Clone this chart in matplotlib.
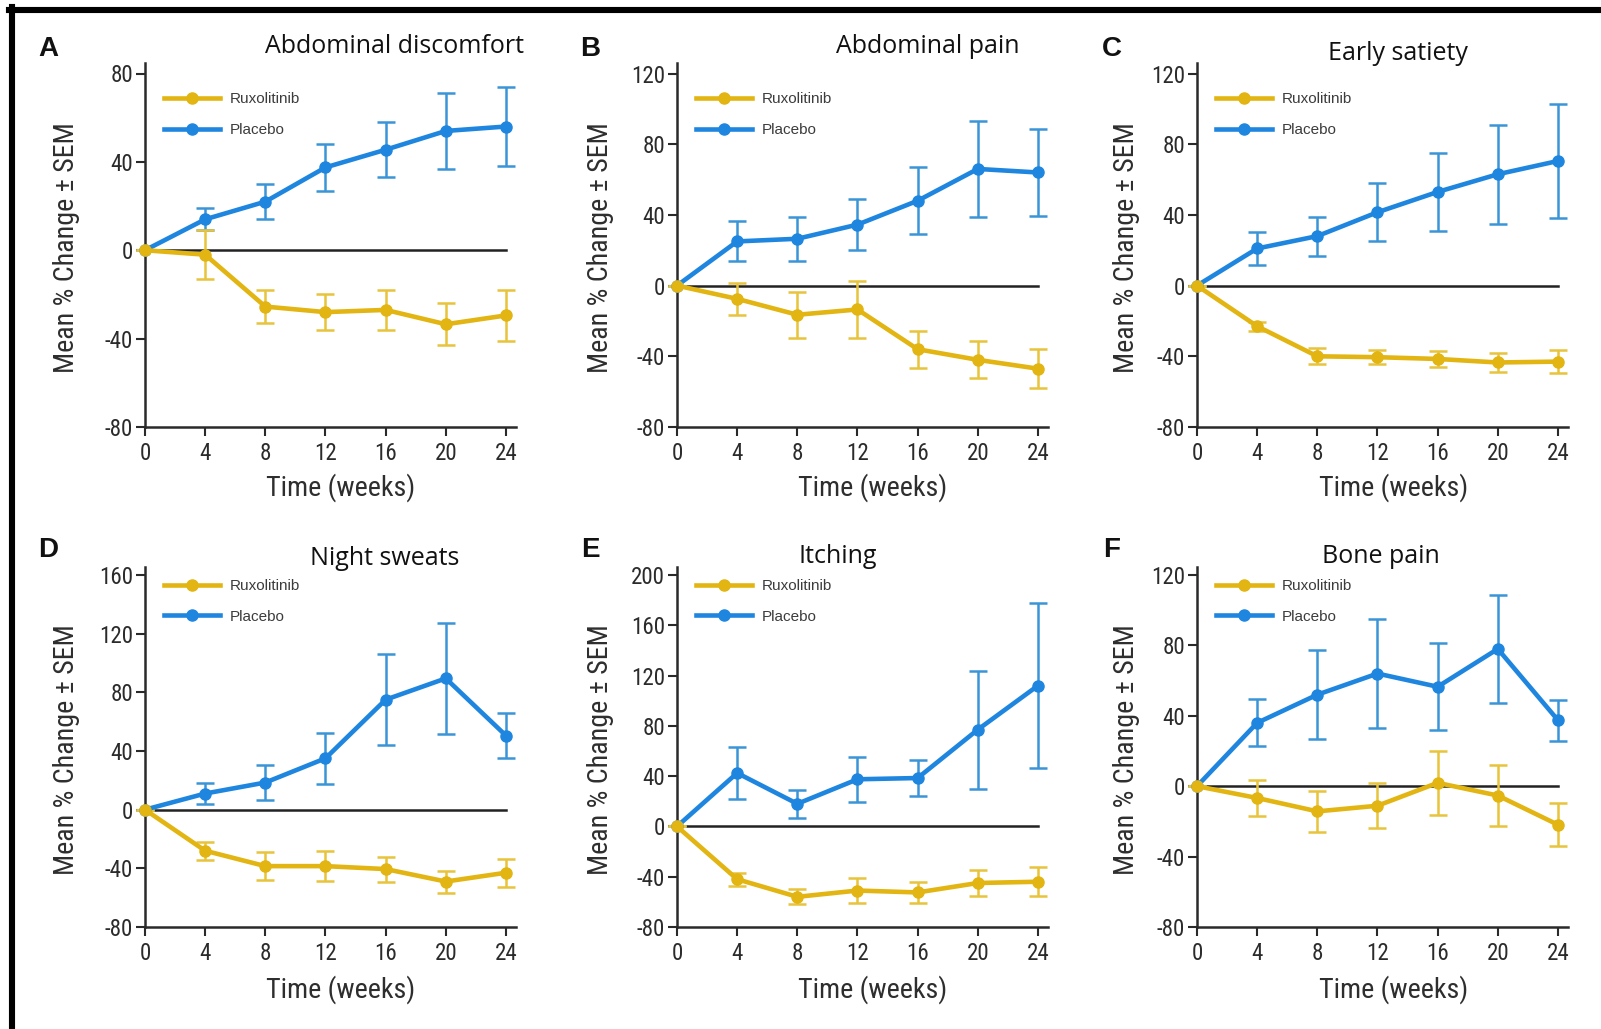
import matplotlib.pyplot as plt
from matplotlib import font_manager as fm
from matplotlib.font_manager import FontProperties
from matplotlib.textpath import TextPath
from matplotlib.lines import Line2D

W, H = 1601, 1029

weeks = [0, 4, 8, 12, 16, 20, 24]
letters = ['A', 'B', 'C', 'D', 'E', 'F']
titles = ['Abdominal discomfort', 'Abdominal pain', 'Early satiety',
          'Night sweats', 'Itching', 'Bone pain']
y_top = [80, 120, 120, 160, 200, 120]

placebo = [
    [0, 14, 22, 37.5, 45.5, 54, 56],
    [0, 25, 26.5, 34.5, 48, 66, 64],
    [0, 21, 28, 41.5, 53, 63, 70.5],
    [0, 11, 18.5, 35, 75, 89.5, 50.5],
    [0, 42.5, 18, 37.5, 38.5, 77, 112],
    [0, 36, 52, 64, 56.5, 78, 37.5],
]
placebo_sem = [
    [0, 5, 8, 10.5, 12.5, 17, 18],
    [0, 11.3, 12.5, 14.5, 19, 27, 24.5],
    [0, 9.5, 11, 16.5, 22, 28, 32],
    [0, 7, 12, 17.5, 31, 38, 15.5],
    [0, 20.5, 11.3, 18, 14.4, 47, 65.5],
    [0, 13.4, 25.3, 30.8, 24.8, 30.8, 11.7],
]
rux = [
    [0, -2, -25.5, -28, -27, -33.5, -29.5],
    [0, -7.5, -16.5, -13.5, -36, -42, -47],
    [0, -23, -40, -40.5, -41.5, -43.5, -43],
    [0, -28, -38.5, -38.5, -40.5, -49, -43],
    [0, -42, -56, -51, -52.5, -45, -44],
    [0, -6.7, -14.3, -11.1, 1.9, -5.3, -21.9],
]
rux_sem = [
    [0, 11, 7.5, 8, 9, 9.5, 11.5],
    [0, 9, 13, 16, 10.5, 10.5, 11],
    [0, 2.5, 4.5, 4, 4.5, 5.5, 6.5],
    [0, 6, 9.5, 10, 8.5, 7.5, 9.5],
    [0, 5, 6, 10, 8.5, 10, 11.5],
    [0, 10.2, 11.6, 12.7, 18.1, 17.5, 12.2],
]

gold = '#e2b512'
gold_err = '#e8c43c'
blue = '#1f86e0'
blue_err = '#3a95d8'
ink = '#2a2a2a'

plt.rcParams['font.family'] = ['Liberation Sans', 'DejaVu Sans']
plt.rcParams['axes.unicode_minus'] = False


def pick_family(cands):
    have = {f.name for f in fm.fontManager.ttflist}
    for name in cands:
        if name in have:
            return name
    return 'DejaVu Sans'


axis_font = FontProperties(family=pick_family(
    ['Liberation Sans Narrow', 'Roboto Condensed', 'Liberation Sans']))


def fit_pt(s, prop, target_px):
    # font size (pt at 100 dpi) whose ink width is target_px
    w100 = TextPath((0, 0), s, size=100, prop=prop).get_extents().width
    return target_px * 72.0 / w100


ylab_text = 'Mean % Change \u00b1 SEM'
xlab_text = 'Time (weeks)'
lab_pt = 0.5 * (fit_pt(ylab_text, axis_font, 255) + fit_pt(xlab_text, axis_font, 141))
tick_pt = fit_pt('120', axis_font, 31)

fig = plt.figure(figsize=(W / 100, H / 100), dpi=100)
fig.patch.set_facecolor('white')

# pixel layout of the 2x3 grid
col_left = [145, 677, 1197]
row_bottom = [427, 927]
row_top = [63, 567]
row_ticktop = [73.5, 575]
xmax = 24.7
px_per_week = 15.04
ax_w = xmax * px_per_week

ylab_x = [66, 601, 1127]
ylab_y = [248, 750]
xlab_x = [341, 873, 1394]
xlab_y = [488, 990]
letter_x = [48, 590, 1112]
letter_base = [56, 557]
title_x = [394, 928, 1398, 385, 838, 1381]
title_base = [53, 53, 60, 565, 563, 563]
legend_y = [0.92, 0.967]

for i in range(6):
    r, c = divmod(i, 3)
    x0 = col_left[c]
    y0 = row_bottom[r]
    y1 = row_top[r]
    ax_h = y0 - y1
    ax = fig.add_axes([x0 / W, 1 - y0 / H, ax_w / W, ax_h / H])

    lo, hi = -80, y_top[i]
    frac = ax_h / (y0 - row_ticktop[r])
    ax.set_ylim(lo, lo + (hi - lo) * frac)
    ax.set_xlim(0, xmax)
    ax.set_xticks(weeks)
    ax.set_yticks(range(lo, hi + 1, 40))

    for s in ['top', 'right']:
        ax.spines[s].set_visible(False)
    for s in ['left', 'bottom']:
        ax.spines[s].set_linewidth(1.8)
        ax.spines[s].set_color(ink)
    ax.tick_params(length=6.5, width=1.5, color=ink, labelcolor='#2b2b2b')
    ax.tick_params(axis='y', pad=2)
    ax.tick_params(axis='x', pad=4)
    for lab in ax.get_xticklabels() + ax.get_yticklabels():
        lab.set_fontproperties(axis_font)
        lab.set_fontsize(tick_pt)

    ax.plot([0, 24], [0, 0], color='#222222', lw=1.8, zorder=1)

    eb = ax.errorbar(weeks, placebo[i], yerr=placebo_sem[i], fmt='none',
                     ecolor=blue_err, elinewidth=1.8, capsize=6.5,
                     capthick=1.8, zorder=2)
    eb2 = ax.errorbar(weeks, rux[i], yerr=rux_sem[i], fmt='none',
                      ecolor=gold_err, elinewidth=1.8, capsize=6.5,
                      capthick=1.8, zorder=2)
    for cont in (eb, eb2):
        for art in cont.lines[1] + cont.lines[2]:
            art.set_clip_on(False)

    hp, = ax.plot(weeks, placebo[i], color=blue, lw=3.3, marker='o', ms=8,
                  clip_on=False, zorder=3, label='Placebo')
    hr, = ax.plot(weeks, rux[i], color=gold, lw=3.3, marker='o', ms=8,
                  clip_on=False, zorder=4, label='Ruxolitinib')

    leg = ax.legend(handles=[hr, hp], loc='upper left',
                    bbox_to_anchor=(0.05, legend_y[r]), frameon=False,
                    prop={'family': ['Liberation Sans', 'DejaVu Sans'], 'size': 11},
                    handlelength=3.7, handletextpad=0.6, labelspacing=1.1,
                    borderpad=0, borderaxespad=0)
    for t in leg.get_texts():
        t.set_color('#3c3c3c')

    fig.text(ylab_x[c] / W, 1 - ylab_y[r] / H, ylab_text,
             rotation=90, ha='center', va='center', fontproperties=axis_font,
             fontsize=lab_pt, color='#2e2e2e')
    fig.text(xlab_x[c] / W, 1 - xlab_y[r] / H, xlab_text,
             ha='center', va='center', fontproperties=axis_font,
             fontsize=lab_pt, color='#2e2e2e')

    fig.text(letter_x[c] / W, 1 - letter_base[r] / H, letters[i],
             ha='center', va='baseline', fontsize=20, fontweight='bold',
             family=['Liberation Sans', 'DejaVu Sans'], color='#111111')
    fig.text(title_x[i] / W, 1 - title_base[i] / H, titles[i],
             ha='center', va='baseline', fontsize=18,
             family=['Open Sans', 'DejaVu Sans'], color='#111111')

# frame lines along the top and left edge
fig.add_artist(Line2D([9 / W, 1], [1 - 10 / H, 1 - 10 / H], color='black', lw=4.4))
fig.add_artist(Line2D([12 / W, 12 / W], [1 - 7 / H, 0], color='black', lw=4.4))

fig.savefig('out.png', dpi=100, facecolor='white')
